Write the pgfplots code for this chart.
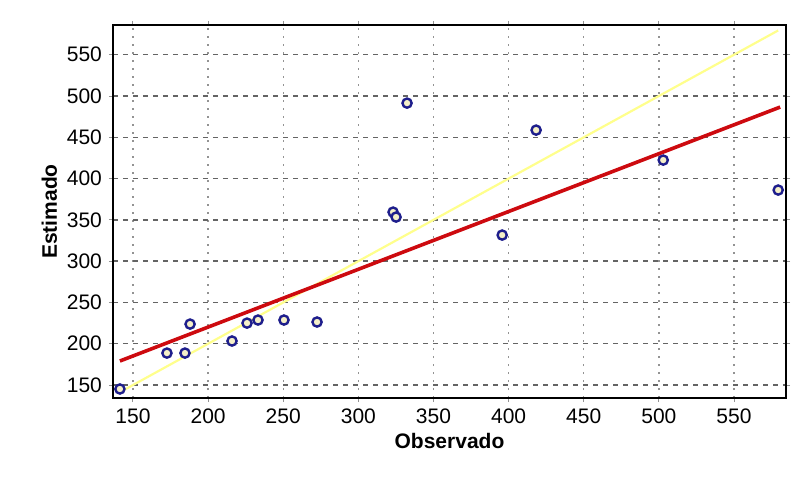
\documentclass[border=0pt]{standalone}
\usepackage{pgfplots}
\pgfplotsset{compat=1.18}
\usepackage{fontspec}
\setmainfont{Liberation Sans}
\definecolor{ptnavy}{RGB}{30, 30, 140}
\definecolor{ptfill}{RGB}{245, 240, 200}
\definecolor{fitred}{RGB}{205, 10, 15}
\definecolor{oneyellow}{RGB}{255, 255, 140}
\definecolor{gridgray}{RGB}{100, 100, 100}

\begin{document}
\begin{tikzpicture}
\begin{axis}[
    name=ax, scale only axis,
    width=336.5pt, height=186.5pt,
    xmin=136.7, xmax=584.6, ymin=134.3, ymax=586,
    xtick={150,200,...,550}, ytick={150,200,...,550},
    xlabel={\bfseries Observado}, ylabel={\bfseries Estimado},
    label style={font=\fontsize{10.5}{12}\selectfont},
    ticklabel style={font=\fontsize{10.5}{12}\selectfont},
    /pgf/number format/assume math mode=true,
    xlabel style={yshift=2pt}, ylabel style={yshift=-2pt},
    grid=major,
    major y grid style={gridgray, line width=0.7pt, dash pattern=on 2.5pt off 2.5pt},
    major x grid style={gridgray!70, line width=0.7pt, dash pattern=on 1pt off 3pt},
    tick align=outside, major tick length=2pt,
    tick style={gridgray!70, line width=0.5pt},
    axis line style={black, line width=1.3pt},
]
% linea 1:1
\addplot[oneyellow, line width=1.1pt] coordinates {(141.3,141.3) (579.4,579.4)};
% ajuste
\addplot[fitred, line width=1.8pt] coordinates {(141.3,179.1) (580.7,486.6)};
% puntos
\addplot[only marks, mark=*, mark size=2.3pt,
    mark options={draw=ptnavy, fill=ptfill, line width=1.2pt}] coordinates {
    (141.3,145.2) (172.6,188.7) (184.6,188.7) (188.0,223.8) (215.9,203.3)
    (225.9,225.0) (233.2,228.7) (250.5,228.7) (272.5,226.3) (323.1,359.4)
    (325.1,353.4) (332.4,491.4) (395.7,331.6) (418.3,458.7) (502.9,422.4)
    (579.4,386.1)
};
\end{axis}
\path (ax.south west) ++(-56.5pt,-42pt);
\path (ax.north east) ++(11pt,12.5pt);
\end{tikzpicture}
\end{document}
